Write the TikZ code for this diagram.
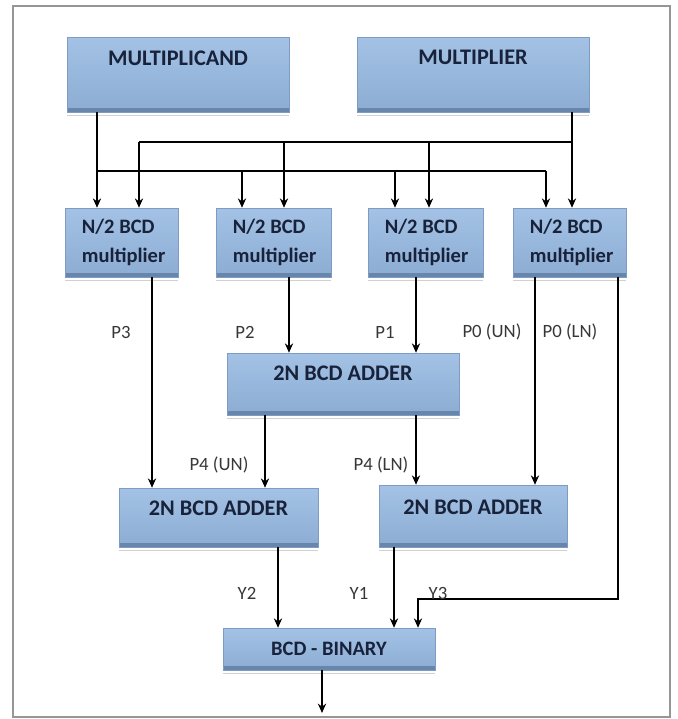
\documentclass[tikz,border=0pt]{standalone}
\usepackage{fontspec}
\newfontfamily\calibfont{Carlito}
\usepackage{xcolor}
\usepackage{tikz}
\usetikzlibrary{arrows.meta,shadows,fit}
\definecolor{boxtop}{RGB}{163,194,229}
\definecolor{boxbot}{RGB}{140,172,211}
\definecolor{boxdark}{RGB}{104,134,172}
\definecolor{boxedge}{RGB}{125,155,195}
\definecolor{boxink}{RGB}{24,34,58}
\definecolor{labink}{RGB}{55,55,55}
\definecolor{framecol}{RGB}{150,150,150}

\begin{document}
\begin{tikzpicture}[x=0.03cm,y=-0.03cm,>={Stealth[length=8pt,width=7pt]},
blk/.style={rectangle,inner sep=0pt,draw=boxedge,line width=.4pt,top color=boxtop,bottom color=boxbot,
 drop shadow={shadow xshift=0pt,shadow yshift=-3pt,opacity=.3,fill=black!60},
 preaction={draw=white,line width=5pt},
 path picture={\fill[boxdark](path picture bounding box.south west) rectangle ([yshift=3.5pt]path picture bounding box.south east);}},
boxtxt/.style={font=\calibfont\bfseries\fontsize{19}{23}\selectfont,text=boxink},
multtxt/.style={font=\calibfont\bfseries\fontsize{17.5}{24.7}\selectfont,text=boxink,align=left,anchor=west,xshift=0.39cm},
lbl/.style={font=\calibfont\fontsize{16}{19}\selectfont,text=labink},
wire/.style={line width=2pt}]
\useasboundingbox(0,0)rectangle(678,719);
\draw[framecol,line width=1pt](13,6)rectangle(670,717);
%%% inputs
\node[blk,fit={(67,37)(289,112)},label={[boxtxt,yshift=0.5cm]center:MULTIPLICAND}](mcand){};
\node[blk,fit={(357,37)(589,112)},label={[boxtxt,yshift=0.5cm]center:MULTIPLIER}](mplier){};
%%% partial multipliers
\node[blk,fit={(65,208)(178,277)},label={[multtxt]west:{N/2 BCD\\multiplier}}](m1){};
\node[blk,fit={(216,208)(331,277)},label={[multtxt]west:{N/2 BCD\\multiplier}}](m2){};
\node[blk,fit={(368,208)(483,277)},label={[multtxt]west:{N/2 BCD\\multiplier}}](m3){};
\node[blk,fit={(513,208)(626,277)},label={[multtxt]west:{N/2 BCD\\multiplier}}](m4){};
%%% adders
\node[blk,fit={(227,353)(459,415)},label={[boxtxt,yshift=0.33cm]center:2N BCD ADDER}](add1){};
\node[blk,fit={(119,488)(318,547)},label={[boxtxt,yshift=0.28cm]center:2N BCD ADDER}](add2){};
\node[blk,fit={(379,485)(567,547)},label={[boxtxt,yshift=0.27cm]center:2N BCD ADDER}](add3){};
\node[blk,fit={(223,628)(435,670)},label={[boxtxt,font=\calibfont\bfseries\fontsize{17.5}{21}\selectfont]center:BCD - BINARY}](conv){};
%%% bus taps
\coordinate(a1)at(97,171);\coordinate(a2)at(242,171);\coordinate(a3)at(395,171);\coordinate(a4)at(546,171);
\coordinate(b1)at(139,142);\coordinate(b2)at(284,142);\coordinate(b3)at(429,142);\coordinate(b4)at(572,142);
\draw[wire](mcand.south-|a1)--(a1)--(a4);
\draw[wire](mplier.south-|b4)--(b4)--(b1);
\foreach \i in {1,...,4}{
\draw[wire,->](a\i)--(m\i.north-|a\i);
\draw[wire,->](b\i)--(m\i.north-|b\i);}
%%% products
\coordinate(xp3)at(152,0);\coordinate(xp2)at(289,0);\coordinate(xp1)at(416,0);
\coordinate(xpu)at(535,0);\coordinate(xpl)at(618,0);
\coordinate(xq2)at(265,0);\coordinate(xy2)at(278,0);\coordinate(xy1)at(394,0);
\coordinate(turn)at(618,599);\coordinate(xy3)at(418,599);\coordinate(result)at(322,713);
\draw[wire,->](m1.south-|xp3)--(add2.north-|xp3);
\draw[wire,->](m2.south-|xp2)--(add1.north-|xp2);
\draw[wire,->](m3.south-|xp1)--(add1.north-|xp1);
\draw[wire,->](m4.south-|xpu)--(add3.north-|xpu);
\draw[wire,->](m4.south-|xpl)--(turn)--(xy3)--(conv.north-|xy3);
\draw[wire,->](add1.south-|xq2)--(add2.north-|xq2);
\draw[wire,->](add1.south-|xp1)--(add3.north-|xp1);
\draw[wire,->](add2.south-|xy2)--(conv.north-|xy2);
\draw[wire,->](add3.south-|xy1)--(conv.north-|xy1);
\draw[wire,->](conv.south-|result)--(result);
%%% labels
\node[lbl](lp3)at(121,332){P3};
\node[lbl](lp2)at(245,332){P2};
\node[lbl](lp1)at(385,332){P1};
\node[lbl](lp0u)at(492,332){P0 (UN)};
\node[lbl](lp0l)at(570,332){P0 (LN)};
\node[lbl](lp4u)at(219,465){P4 (UN)};
\node[lbl](lp4l)at(381,465){P4 (LN)};
\node[lbl](ly2)at(247,593){Y2};
\node[lbl](ly1)at(359,593){Y1};
\node[lbl](ly3)at(438,593){Y3};
\end{tikzpicture}
\end{document}
